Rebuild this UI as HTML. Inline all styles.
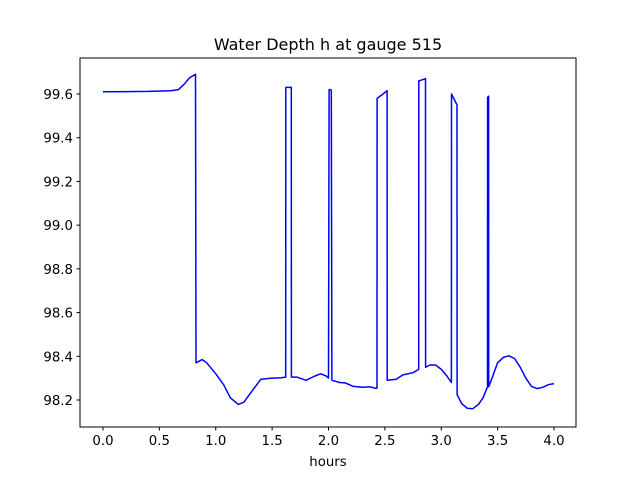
<!DOCTYPE html>
<html><head><meta charset="utf-8"><style>
html,body{margin:0;padding:0;background:#fff;}
svg{display:block;font-family:"DejaVu Sans","Liberation Sans",sans-serif;}
</style></head><body>
<svg id="s" width="640" height="480" viewBox="0 0 640 480" xmlns="http://www.w3.org/2000/svg">
<rect width="640" height="480" fill="#fff"/>
<text x="328" y="50" font-size="16" text-anchor="middle">Water Depth h at gauge 515</text>
<g id="ticks" font-size="13.3"></g>
<path id="line" fill="none" stroke="#0000ff" stroke-width="1.5" stroke-linejoin="round"/>
<rect x="80" y="58" width="496" height="369" fill="none" stroke="#000" stroke-width="1"/>
<text x="328" y="466" font-size="13.3" text-anchor="middle">hours</text>
</svg>
<script>
function X(h){return 103+h*112.75;}
function Y(v){return 400-(v-98.2)*218.57;}
var t=document.getElementById('ticks'),h='';
for(var i=0;i<=8;i++){var v=i*0.5,x=X(v);h+='<line x1="'+x+'" y1="427" x2="'+x+'" y2="430.5" stroke="#000"/><text x="'+x+'" y="445" text-anchor="middle">'+v.toFixed(1)+'</text>';}
for(var i=0;i<=7;i++){var v=98.2+i*0.2,y=Y(v);h+='<line x1="76.5" y1="'+y+'" x2="80" y2="'+y+'" stroke="#000"/><text x="73" y="'+(y+5)+'" text-anchor="end">'+v.toFixed(1)+'</text>';}
t.innerHTML=h;
var d=[[0,99.61],[0.4,99.612],[0.6,99.615],[0.67,99.62],[0.72,99.645],[0.77,99.675],[0.82,99.69],[0.825,98.37],[0.88,98.385],[0.92,98.37],[1.0,98.32],[1.07,98.27],[1.13,98.21],[1.2,98.18],[1.25,98.19],[1.32,98.24],[1.4,98.295],[1.5,98.3],[1.58,98.302],[1.62,98.305],[1.621,99.63],[1.67,99.63],[1.671,98.305],[1.72,98.305],[1.8,98.29],[1.88,98.31],[1.93,98.32],[1.98,98.31],[2.0,98.3],[2.005,99.62],[2.02,99.62],[2.025,99.615],[2.03,98.29],[2.1,98.28],[2.15,98.278],[2.22,98.262],[2.3,98.258],[2.37,98.26],[2.42,98.253],[2.43,98.255],[2.431,99.58],[2.47,99.595],[2.52,99.615],[2.521,98.29],[2.6,98.295],[2.66,98.315],[2.75,98.325],[2.8,98.34],[2.801,99.66],[2.83,99.665],[2.86,99.67],[2.861,98.35],[2.9,98.36],[2.95,98.36],[3.0,98.34],[3.05,98.31],[3.09,98.28],[3.091,99.6],[3.14,99.55],[3.141,98.225],[3.18,98.185],[3.23,98.162],[3.28,98.16],[3.33,98.18],[3.37,98.21],[3.41,98.26],[3.411,99.585],[3.42,99.59],[3.421,98.26],[3.45,98.3],[3.5,98.37],[3.55,98.395],[3.6,98.402],[3.65,98.39],[3.7,98.35],[3.75,98.3],[3.8,98.262],[3.85,98.252],[3.9,98.258],[3.95,98.27],[4.0,98.275]];
var p='M';for(var i=0;i<d.length;i++){p+=(i?' L':'')+X(d[i][0]).toFixed(1)+','+Y(d[i][1]).toFixed(1);}
document.getElementById('line').setAttribute('d',p);
</script>
</body></html>
